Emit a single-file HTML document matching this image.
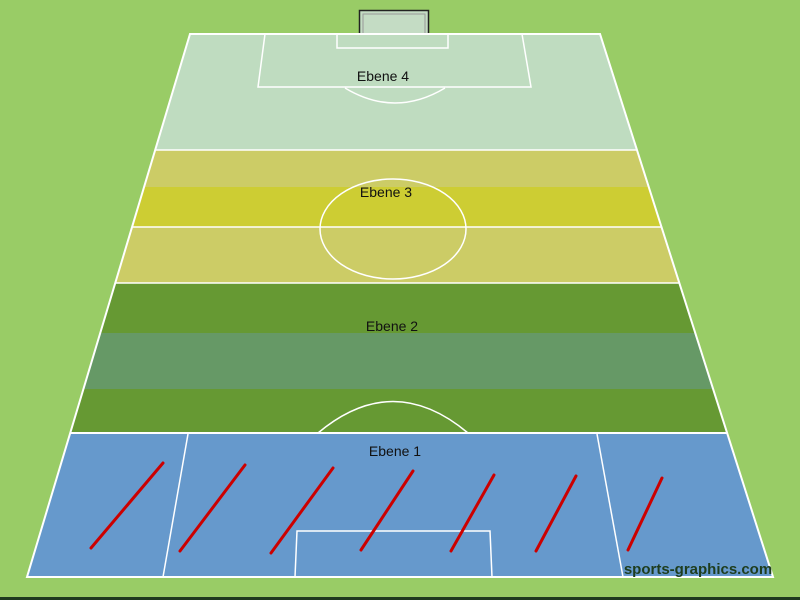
<!DOCTYPE html>
<html><head><meta charset="utf-8"><style>
html,body{margin:0;padding:0;background:#99cc66;}
svg{display:block}
text{font-family:"Liberation Sans",sans-serif;}
</style></head><body>
<svg width="800" height="600" viewBox="0 0 800 600" xmlns="http://www.w3.org/2000/svg">
<rect width="800" height="600" fill="#99cc66"/>
<rect x="0" y="597" width="800" height="3" fill="#1f3a1f"/>
<!-- goal -->
<rect x="359.5" y="10.5" width="69" height="24" fill="#c4dcc4" stroke="#222" stroke-width="1.5"/>
<rect x="363" y="14" width="62" height="20" fill="none" stroke="#999" stroke-width="1"/>
<!-- bands -->
<polygon points="190,34 600,34 637,150 155.2,150" fill="#bfdcc0"/>
<polygon points="155.2,150 637,150 648.7,187 144.1,187" fill="#cccc66"/>
<polygon points="144.1,187 648.7,187 661.5,227 132.1,227" fill="#cdcd33"/>
<polygon points="132.1,227 661.5,227 679.3,283 115.3,283" fill="#cccc66"/>
<polygon points="115.3,283 679.3,283 695.3,333 100.2,333" fill="#669933"/>
<polygon points="100.2,333 695.3,333 713.1,389 83.4,389" fill="#669966"/>
<polygon points="83.4,389 713.1,389 727.1,433 70.2,433" fill="#669933"/>
<polygon points="70.2,433 727.1,433 773,577 27,577" fill="#6699cc"/>
<!-- lines -->
<g fill="none" stroke="#fff" stroke-width="1.5">
<polygon points="190,34 600,34 773,577 27,577" stroke-width="2"/>
<line x1="155.2" y1="150" x2="637" y2="150"/>
<line x1="132.1" y1="227" x2="661.5" y2="227"/>
<line x1="115.3" y1="283" x2="679.3" y2="283"/>
<line x1="70.2" y1="433" x2="727.1" y2="433" stroke-width="2"/>
<ellipse cx="393" cy="229" rx="73" ry="50"/>
<polyline points="265,34 258,87 531,87 522,34"/>
<polyline points="337,34 337,48 448,48 448,34"/>
<path d="M345,88 Q395,118 445,88"/>
<path d="M318,433 Q393,370 468,433"/>
<line x1="188" y1="434" x2="163" y2="577"/>
<line x1="597" y1="434" x2="623" y2="577"/>
<polyline points="295,577 297,531 490,531 492,577"/>
</g>
<!-- red lines -->
<g stroke="#cc0000" stroke-width="3" stroke-linecap="round">
<line x1="163" y1="463" x2="91" y2="548"/>
<line x1="245" y1="465" x2="180" y2="551"/>
<line x1="333" y1="468" x2="271" y2="553"/>
<line x1="413" y1="471" x2="361" y2="550"/>
<line x1="494" y1="475" x2="451" y2="551"/>
<line x1="576" y1="476" x2="536" y2="551"/>
<line x1="662" y1="478" x2="628" y2="550"/>
</g>
<g font-size="14" fill="#111" text-anchor="middle">
<text x="383" y="81">Ebene 4</text>
<text x="386" y="197">Ebene 3</text>
<text x="392" y="331">Ebene 2</text>
<text x="395" y="456">Ebene 1</text>
</g>
<text x="698" y="574" font-size="15" font-weight="bold" fill="#1e3d1e" text-anchor="middle">sports-graphics.com</text>
</svg>
</body></html>
